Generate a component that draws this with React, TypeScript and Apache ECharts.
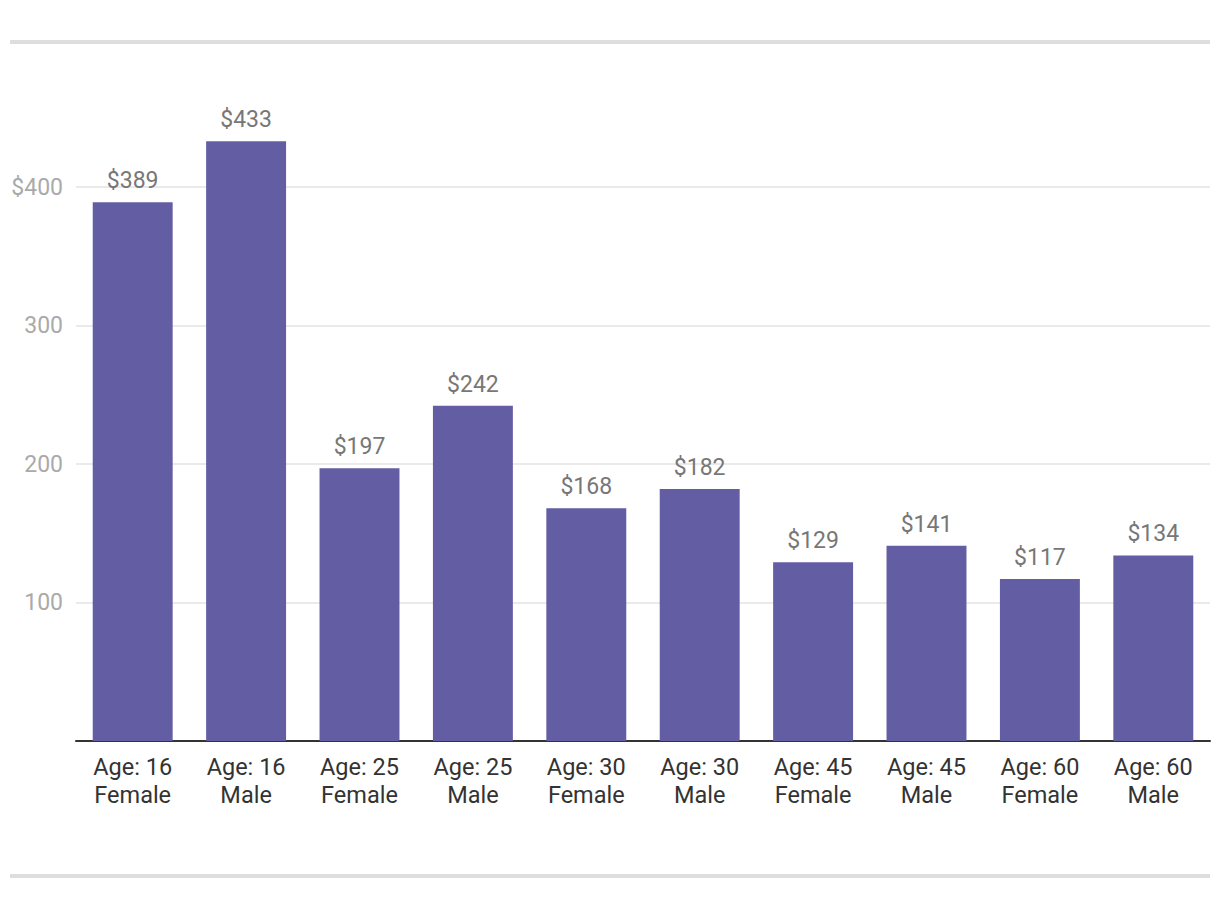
import React, { useEffect, useRef } from "react";
import * as echarts from "echarts";

const categories = [
  "Age: 16\nFemale", "Age: 16\nMale", "Age: 25\nFemale", "Age: 25\nMale",
  "Age: 30\nFemale", "Age: 30\nMale", "Age: 45\nFemale", "Age: 45\nMale",
  "Age: 60\nFemale", "Age: 60\nMale",
];
const values = [389, 433, 197, 242, 168, 182, 129, 141, 117, 134];
const yTicks = [0, 100, 200, 300, 400];

export default function App() {
  const ref = useRef<HTMLDivElement>(null);
  useEffect(() => {
    document.body.style.margin = "0";
    const chart = echarts.init(ref.current!, null, { renderer: "svg" });
    chart.setOption({
      animation: false,
      textStyle: { fontFamily: "Roboto" },
      grid: { left: 76, right: 10, top: 187, bottom: 167 },
      graphic: [
        { type: "rect", shape: { x: 10, y: 40, width: 1200, height: 4 }, style: { fill: "#dedede" } },
        { type: "rect", shape: { x: 10, y: 874, width: 1200, height: 4 }, style: { fill: "#dedede" } },
      ],
      xAxis: {
        type: "category",
        data: categories,
        axisLine: { lineStyle: { color: "#333", width: 2 } },
        axisTick: { show: false },
        axisLabel: { color: "#333", fontSize: 23.5, lineHeight: 28, margin: 12, interval: 0, fontFamily: "Roboto" },
      },
      yAxis: {
        type: "value",
        min: yTicks[0],
        max: yTicks[yTicks.length - 1],
        interval: 100,
        axisLine: { show: false },
        axisTick: { show: false },
        splitLine: { lineStyle: { color: "#e3e3e3", width: 1.5 } },
        axisLabel: {
          color: "#aaa",
          fontSize: 23,
          margin: 13,
          fontFamily: "Roboto",
          formatter: (v: number) => (v === 0 ? "" : v === 400 ? "$" + v : String(v)),
        },
      },
      series: [
        {
          type: "bar",
          data: values,
          barWidth: "70.5%",
          clip: false,
          itemStyle: { color: "#635ea4" },
          label: {
            show: true,
            position: "top",
            distance: 10,
            color: "#777",
            fontSize: 23,
            fontFamily: "Roboto",
            formatter: (p: any) => "$" + p.value,
          },
        },
      ],
    });
    return () => chart.dispose();
  }, []);
  return <div ref={ref} style={{ width: 1220, height: 908 }} />;
}
